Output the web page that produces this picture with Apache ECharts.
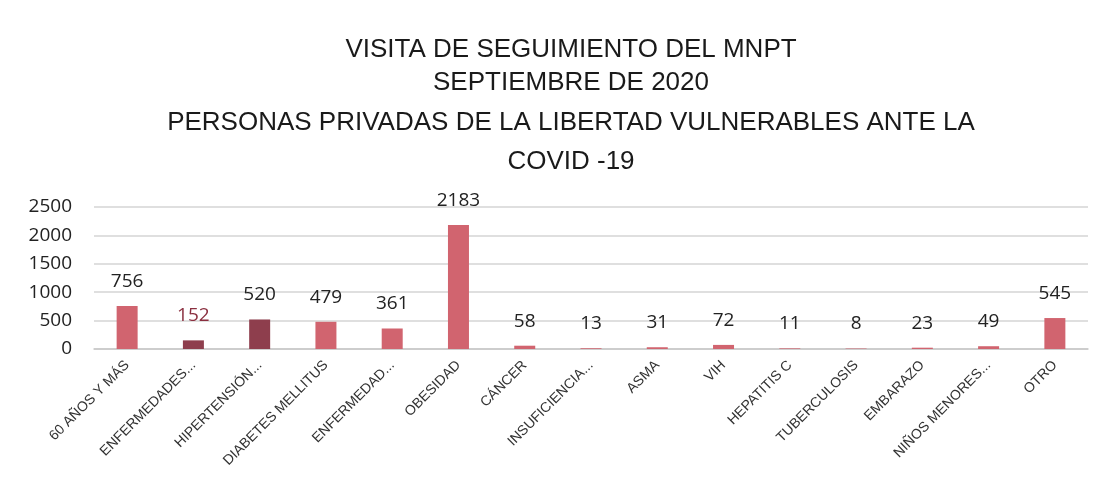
<!DOCTYPE html>
<html>
<head>
<meta charset="utf-8">
<script src="https://cdn.jsdelivr.net/npm/echarts@6/dist/echarts.min.js"></script>
<style>
  html, body { margin: 0; padding: 0; background: #fff; }
  #chart { width: 1107px; height: 497px; }
</style>
</head>
<body>
<div id="chart"></div>
<script>
// Data
const categories = [
    '60 AÑOS Y MÁS', 'ENFERMEDADES...', 'HIPERTENSIÓN...', 'DIABETES MELLITUS',
    'ENFERMEDAD...', 'OBESIDAD', 'CÁNCER', 'INSUFICIENCIA...', 'ASMA', 'VIH',
    'HEPATITIS C', 'TUBERCULOSIS', 'EMBARAZO', 'NIÑOS MENORES...', 'OTRO'
];
const values = [756, 152, 520, 479, 361, 2183, 58, 13, 31, 72, 11, 8, 23, 49, 545];
const darkBars = [1, 2]; // indexes drawn in maroon
const titleLines = [
    'VISITA DE SEGUIMIENTO DEL MNPT',
    'SEPTIEMBRE DE 2020',
    'PERSONAS PRIVADAS DE LA LIBERTAD VULNERABLES ANTE LA',
    'COVID -19'
];
const titleTops = [32, 65, 105, 144];

const PINK = '#d1646f';
const MAROON = '#8e3e4d';
const sans = '"Liberation Sans", Arial, sans-serif';
const labelFont = '"Open Sans", "DejaVu Sans", sans-serif';

const chart = echarts.init(document.getElementById('chart'));

chart.setOption({
    animation: false,
    backgroundColor: '#fff',
    title: titleLines.map((t, i) => ({
        text: t,
        left: 566,
        textAlign: 'center',
        top: titleTops[i],
        textStyle: { fontFamily: sans, fontSize: 26, fontWeight: 'normal', color: '#1a1a1a' }
    })),
    grid: { left: 94, right: 19, top: 207, bottom: 148 },
    xAxis: {
        type: 'category',
        data: categories,
        axisLine: { show: true, lineStyle: { color: '#c8c8c8', width: 1.5 } },
        axisTick: { show: false },
        axisLabel: {
            interval: 0,
            rotate: 45,
            margin: 14,
            fontFamily: sans,
            fontSize: 14,
            color: '#333'
        }
    },
    yAxis: {
        type: 'value',
        min: 0,
        max: 2500,
        interval: 500,
        axisLine: { show: false },
        axisTick: { show: false },
        splitLine: { lineStyle: { color: '#d4d4d4', width: 1.5 } },
        axisLabel: {
            formatter: (v) => String(v),
            fontFamily: labelFont,
            fontSize: 19,
            color: '#222',
            margin: 22
        }
    },
    series: [{
        type: 'bar',
        barWidth: 21,
        data: values.map((v, i) => ({
            value: v,
            itemStyle: { color: darkBars.includes(i) ? MAROON : PINK },
            label: i === 1 ? { color: '#8a2f3f' } : undefined
        })),
        label: {
            show: true,
            position: 'top',
            distance: 15,
            fontFamily: labelFont,
            fontSize: 19,
            color: '#222'
        }
    }]
});
</script>
</body>
</html>
